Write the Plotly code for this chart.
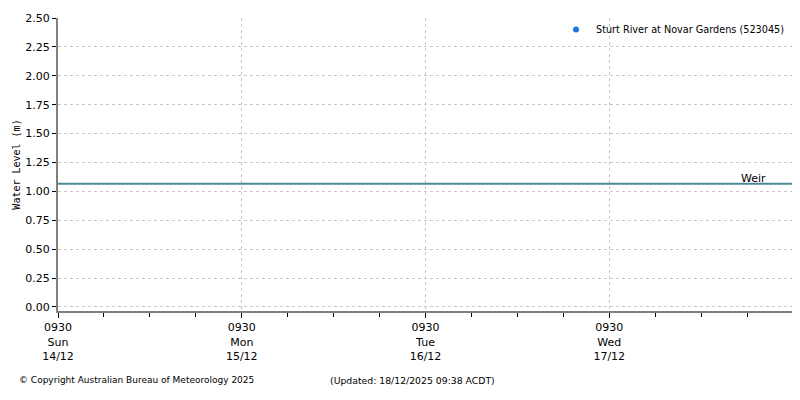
import plotly.graph_objects as go

# ---- data ----
station_name = "Sturt River at Novar Gardens (523045)"
station_times = ["2025-12-14 09:30"]   # no observed values visible in the window
station_levels = [None]
weir_label = "Weir"
weir_level = 1.065
x_start = "2025-12-14 09:30"
x_end = "2025-12-18 09:30"
major_tick_times = ["2025-12-14 09:30", "2025-12-15 09:30", "2025-12-16 09:30", "2025-12-17 09:30"]
major_tick_labels = ["0930<br>Sun<br>14/12", "0930<br>Mon<br>15/12", "0930<br>Tue<br>16/12", "0930<br>Wed<br>17/12"]
y_ticks = [0, 0.25, 0.5, 0.75, 1.0, 1.25, 1.5, 1.75, 2.0, 2.25, 2.5]
y_tick_labels = ["0.00", "0.25", "0.50", "0.75", "1.00", "1.25", "1.50", "1.75", "2.00", "2.25", "2.50"]
copyright_text = "© Copyright Australian Bureau of Meteorology 2025"
updated_text = "(Updated: 18/12/2025 09:38 ACDT)"

FONT = "DejaVu Sans"
OFF = 8  # page body margin offset
# desired screen positions of the plot area
SX0, SX1, SY0, SY1 = 58, 793, 18, 311
W, H = 800, 400
L, T = SX0 - OFF, SY0 - OFF
R, B = W - (SX1 - OFF), H - (SY1 - OFF)
PW, PH = W - L - R, H - T - B


def px(sx):
    return (sx - OFF - L) / PW


def py(sy):
    return 1 - (sy - OFF - T) / PH


fig = go.Figure()
fig.add_trace(go.Scatter(
    x=[x_start, x_end], y=[weir_level, weir_level], mode="lines",
    line=dict(color="#4e8895", width=2), showlegend=False, hoverinfo="skip"))
fig.add_trace(go.Scatter(
    x=station_times, y=station_levels, mode="markers", name=station_name,
    marker=dict(color="#1f74e6", size=6), showlegend=True))

fig.update_layout(
    width=W, height=H,
    margin=dict(l=L, r=R, t=T, b=B, autoexpand=False),
    paper_bgcolor="white", plot_bgcolor="white",
    font=dict(family=FONT, size=11, color="#000000"),
    showlegend=True,
    legend=dict(x=px(790), y=py(15), xanchor="right", yanchor="top",
                bgcolor="rgba(0,0,0,0)", font=dict(family=FONT, size=9.7),
                itemwidth=30),
    xaxis=dict(
        type="date", range=[x_start, x_end], automargin=False,
        tickmode="array", tickvals=major_tick_times, ticktext=major_tick_labels,
        ticks="outside", ticklen=5, tickcolor="#000000", tickwidth=1,
        showline=True, linecolor="#808080", linewidth=2, mirror=False,
        showgrid=True, gridcolor="#c8c8c8", griddash="dot", gridwidth=1,
        zeroline=False, tickfont=dict(family=FONT, size=11),
        minor=dict(dtick=6 * 3600 * 1000, tick0=x_start, ticks="outside", ticklen=4,
                   tickcolor="#000000", showgrid=False),
    ),
    yaxis=dict(
        range=[-0.035, 2.5], tickmode="array", tickvals=y_ticks, ticktext=y_tick_labels,
        automargin=False,
        ticks="outside", ticklen=4, tickcolor="#000000",
        showline=True, linecolor="#808080", linewidth=2, mirror=True,
        showgrid=True, gridcolor="#c8c8c8", griddash="dot", gridwidth=1,
        zeroline=False, tickfont=dict(family=FONT, size=11),
        title=dict(text="Water Level (m)", font=dict(family="DejaVu Sans Mono", size=10), standoff=3),
    ),
)

fig.add_annotation(x=x_end, y=weir_level, xref="x", yref="y", text=weir_label,
                   showarrow=False, xanchor="right", yanchor="bottom", xshift=-25, yshift=-3,
                   font=dict(family=FONT, size=11, color="#000000"))
fig.add_annotation(x=px(17), y=py(380), xref="paper", yref="paper",
                   text=copyright_text, showarrow=False, xanchor="left", yanchor="middle",
                   font=dict(family=FONT, size=9.0, color="#000000"))
fig.add_annotation(x=px(328), y=py(380), xref="paper", yref="paper",
                   text=updated_text, showarrow=False, xanchor="left", yanchor="middle",
                   font=dict(family=FONT, size=9.3, color="#000000"))

fig.write_html("out.html")
